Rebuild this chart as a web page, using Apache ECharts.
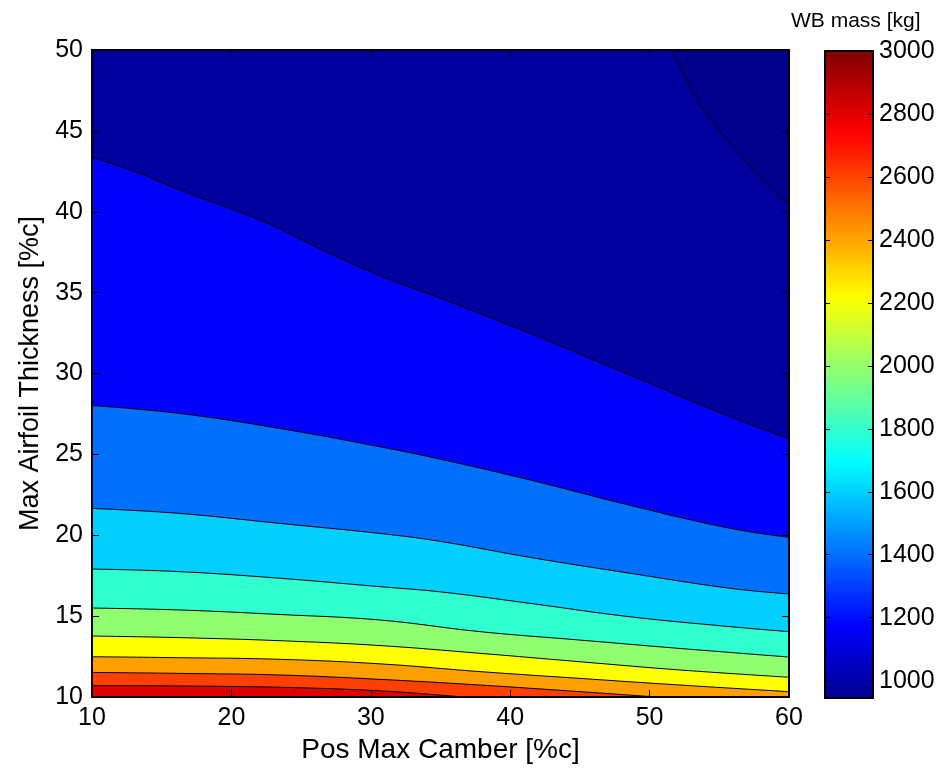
<!DOCTYPE html>
<html><head><meta charset="utf-8">
<script src="https://cdn.jsdelivr.net/npm/echarts@6/dist/echarts.min.js"></script>
<style>html,body{margin:0;padding:0;background:#fff}#c{width:948px;height:771px}</style>
</head><body><div id="c"></div>
<script>
// ---- data ----
const xTicks = [10, 20, 30, 40, 50, 60];
const yTicks = [10, 15, 20, 25, 30, 35, 40, 45, 50];
const cbTicks = [1000, 1200, 1400, 1600, 1800, 2000, 2200, 2400, 2600, 2800, 3000];
const cMin = 945, cMax = 3000;
// contour lines [Pos Max Camber, Max Airfoil Thickness]
const c1000 = [[51.65,50],[53.6,46.7],[56.0,44.0],[58.4,41.76],[60,40.36]];
const c1200 = [[10,43.37],[13.44,42.37],[16.31,41.34],[22.05,39.49],[26.36,37.7],[30.66,36.05],[35,34.65],[41.42,32.48],[48.6,29.9],[55.77,27.33],[60,25.97]];
const c1400 = [[10,28.02],[16.3,27.53],[23.49,26.6],[30.66,25.47],[35,24.7],[41.42,23.42],[48.6,21.85],[55.77,20.43],[60,19.87]];
const c1600 = [[10,21.66],[16.3,21.35],[23.49,20.73],[30.66,20.11],[35,19.62],[41.42,18.63],[48.6,17.65],[55.77,16.72],[60,16.37]];
const c1800 = [[10,17.91],[16.3,17.75],[23.49,17.34],[30.66,16.82],[35,16.5],[41.42,15.79],[48.6,14.96],[55.77,14.35],[60,14.04]];
const c2000 = [[10,15.5],[16.3,15.38],[23.49,15.1],[30.66,14.76],[37.83,14.04],[45.0,13.52],[52.18,13.0],[60,12.47]];
const c2200 = [[10,13.77],[16.3,13.67],[23.49,13.48],[30.66,13.18],[37.83,12.70],[45.0,12.18],[52.18,11.67],[60,11.22]];
const c2400 = [[10,12.49],[16.3,12.43],[23.49,12.33],[30.66,12.05],[37.83,11.57],[45.0,11.15],[52.18,10.74],[60,10.33]];
const c2600 = [[10,11.52],[16.3,11.46],[23.49,11.36],[30.66,11.09],[37.83,10.74],[45.0,10.33],[50.5,10.0]];
const c2800 = [[10,10.70],[16.3,10.68],[23.49,10.60],[30.66,10.38],[36.6,10.0]];

// ---- MATLAB jet(64) colormap ----
function jet64() {
  const n = 16, u = [];
  for (let k = 1; k <= n; k++) u.push(k / n);
  for (let k = 1; k < n; k++) u.push(1);
  for (let k = n; k >= 1; k--) u.push(k / n);
  const out = [];
  const get = (idx) => (idx >= 1 && idx <= u.length) ? u[idx - 1] : 0;
  for (let i = 1; i <= 64; i++) {
    const r = get(i - 24), g = get(i - 8), b = get(i + 8);
    out.push('rgb(' + Math.round(r * 255) + ',' + Math.round(g * 255) + ',' + Math.round(b * 255) + ')');
  }
  return out;
}
const JET = jet64();
function colorOf(v) {
  let i = Math.floor((v - cMin) / (cMax - cMin) * 64);
  i = Math.max(0, Math.min(63, i));
  return JET[i];
}

const FONT = "'Liberation Sans', Arial, Helvetica, sans-serif";
const chart = echarts.init(document.getElementById('c'), null, {renderer: 'canvas'});

function contour(data, fillVal, origin) {
  return {
    type: 'line', data: data, xAxisIndex: 0, yAxisIndex: 0,
    showSymbol: false, symbol: 'none', smooth: 0.4,
    lineStyle: {color: '#000', width: 1},
    areaStyle: {color: colorOf(fillVal), opacity: 1, origin: origin},
    silent: true, animation: false
  };
}

const mainTick = {show: true, inside: true, length: 7, lineStyle: {color: '#000', width: 1}};
const axisLine = {show: true, onZero: false, lineStyle: {color: '#000', width: 2}};
const lbl = {color: '#000', fontSize: 25, fontFamily: FONT};

const option = {
  backgroundColor: '#fff',
  animation: false,
  title: {text: 'WB mass [kg]', left: 786, top: 6,
    textStyle: {fontSize: 21, fontWeight: 'normal', color: '#000', fontFamily: FONT}},
  grid: [
    {left: 92, top: 50, width: 697, height: 647, show: true, backgroundColor: colorOf(1000), borderWidth: 0},
    {left: 825, top: 51, width: 48, height: 647, show: false}
  ],
  xAxis: [
    {type: 'value', gridIndex: 0, min: 10, max: 60, interval: 10, position: 'bottom', z: 10,
     axisLine: axisLine, axisTick: mainTick, splitLine: {show: false},
     axisLabel: Object.assign({margin: 9}, lbl),
     name: 'Pos Max Camber [%c]', nameLocation: 'middle', nameGap: 39,
     nameTextStyle: {fontSize: 28, color: '#000', fontFamily: FONT}},
    {type: 'value', gridIndex: 0, min: 10, max: 60, interval: 10, position: 'top', z: 10,
     axisLine: axisLine, axisTick: mainTick, splitLine: {show: false}, axisLabel: {show: false}},
    {type: 'value', gridIndex: 1, min: 0, max: 1, position: 'bottom', z: 10,
     axisLine: {show: true, onZero: false, lineStyle: {color: '#000', width: 2}},
     axisTick: {show: false}, axisLabel: {show: false}, splitLine: {show: false}},
    {type: 'value', gridIndex: 1, min: 0, max: 1, position: 'top', z: 10,
     axisLine: {show: true, onZero: false, lineStyle: {color: '#000', width: 2}},
     axisTick: {show: false}, axisLabel: {show: false}, splitLine: {show: false}}
  ],
  yAxis: [
    {type: 'value', gridIndex: 0, min: 10, max: 50, interval: 5, position: 'left', z: 10,
     axisLine: axisLine, axisTick: mainTick, splitLine: {show: false},
     axisLabel: Object.assign({margin: 9}, lbl),
     name: 'Max Airfoil Thickness [%c]', nameLocation: 'middle', nameGap: 46, nameRotate: 90,
     nameTextStyle: {fontSize: 27, color: '#000', fontFamily: FONT}},
    {type: 'value', gridIndex: 0, min: 10, max: 50, interval: 5, position: 'right', z: 10,
     axisLine: axisLine, axisTick: mainTick, splitLine: {show: false}, axisLabel: {show: false}},
    {type: 'value', gridIndex: 1, min: cMin, max: cMax, position: 'left', z: 10,
     axisLine: {show: true, onZero: false, lineStyle: {color: '#000', width: 2}},
     axisTick: {show: true, inside: true, length: 5, customValues: cbTicks, lineStyle: {color: '#000'}},
     axisLabel: {show: false}, splitLine: {show: false}},
    {type: 'value', gridIndex: 1, min: cMin, max: cMax, position: 'right', z: 10,
     axisLine: {show: true, onZero: false, lineStyle: {color: '#000', width: 2}},
     axisTick: {show: true, inside: true, length: 5, customValues: cbTicks, lineStyle: {color: '#000'}},
     axisLabel: Object.assign({margin: 6, customValues: cbTicks, formatter: (v) => String(Math.round(v))}, lbl),
     splitLine: {show: false}}
  ],
  visualMap: {
    type: 'continuous', min: cMin, max: cMax, seriesIndex: [],
    calculable: false, hoverLink: false, realtime: false,
    orient: 'vertical', left: 825, top: 51, padding: 0,
    itemWidth: 48, itemHeight: 647, text: null, showLabel: false,
    inRange: {color: JET}, z: 4
  },
  series: [
    contour(c1000, cMin, 'end'),
    contour(c1200, 1200, 'start'),
    contour(c1400, 1400, 'start'),
    contour(c1600, 1600, 'start'),
    contour(c1800, 1800, 'start'),
    contour(c2000, 2000, 'start'),
    contour(c2200, 2200, 'start'),
    contour(c2400, 2400, 'start'),
    contour(c2600, 2600, 'start'),
    contour(c2800, 2800, 'start')
  ]
};
chart.setOption(option);
</script>
</body></html>
